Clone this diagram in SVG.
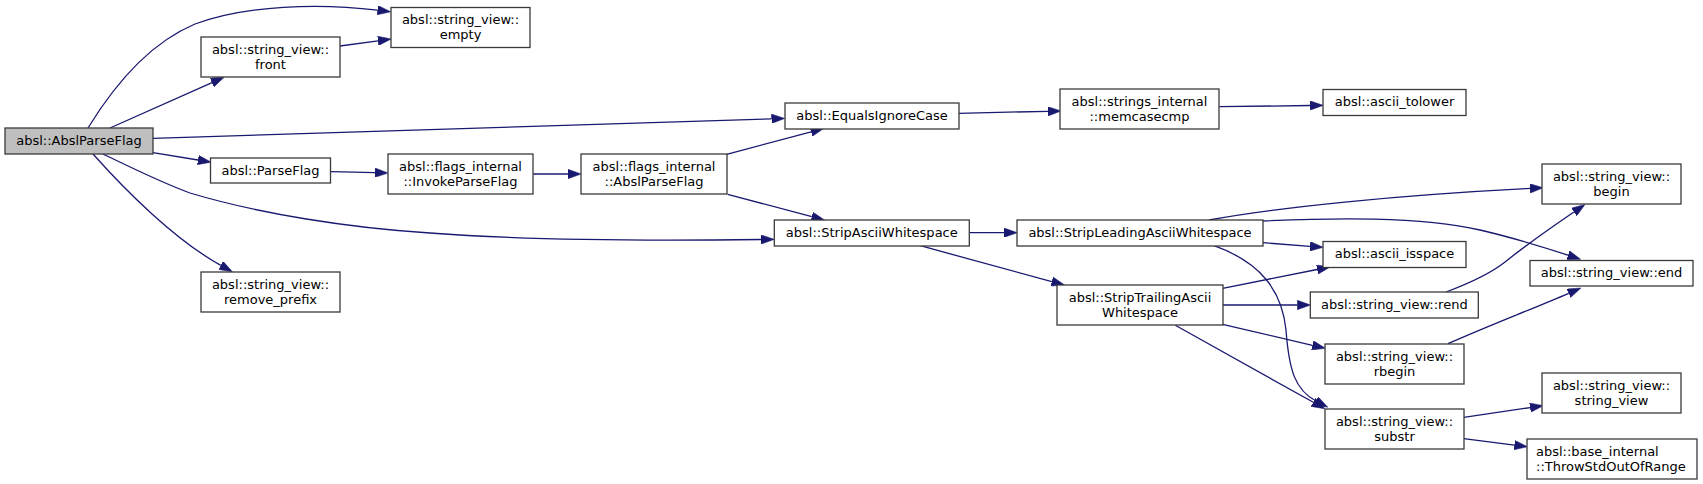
<svg xmlns="http://www.w3.org/2000/svg" width="1703" height="484" viewBox="0 0 1703 484">
<style>
.node rect{fill:#ffffff;stroke:#3a3a3a;stroke-width:1.3}
.node.root rect{fill:#bfbfbf}
.node text{font-family:"DejaVu Sans","Liberation Sans",sans-serif;font-size:13px;fill:#000;text-anchor:middle}
.node text.left{text-anchor:start}
.edges path{fill:none;stroke:#191970;stroke-width:1.3;marker-end:url(#arr)}
</style>
<defs>
<marker id="arr" markerUnits="userSpaceOnUse" viewBox="0 0 13.3 9.4" refX="0" refY="4.7" markerWidth="13.3" markerHeight="9.4" orient="auto">
<path d="M0,0 L13.3,4.7 L0,9.4 z" fill="#191970" stroke="#191970" stroke-width="0.5"/>
</marker>
</defs>
<rect width="1703" height="484" fill="#ffffff"/>
<g class="edges">
<path d="M88,128 C110,92 145,45 195,24 C245,5 320,3 377.5,10.2"/>
<path d="M110,128 L212,82.6"/>
<path d="M340,46 L378,40.8"/>
<path d="M153,138.3 L771.5,118.8"/>
<path d="M153,152.7 L198,160"/>
<path d="M331,171.7 L375,172.7"/>
<path d="M533.3,174 L568,174"/>
<path d="M726.7,154.3 L811.1,131.8"/>
<path d="M727.7,194.3 L811.8,216.7"/>
<path d="M103,154 C130,167 160,182 190,193 C260,214 350,228 430,233 C520,240 640,241 761,239.5"/>
<path d="M93,154 C125,190 175,240 220.8,265.4"/>
<path d="M958.7,113.3 L1048,111.3"/>
<path d="M1219.3,106.7 L1310,105.5"/>
<path d="M969.3,232.7 L1004,232.7"/>
<path d="M920.3,245.7 L1051.8,281.6"/>
<path d="M1209,220 C1280,207 1400,195 1530,188.4"/>
<path d="M1262,221 C1330,218 1420,216 1480,230 C1510,237 1540,246 1568,255.2"/>
<path d="M1262.7,242.7 L1310,246.3"/>
<path d="M1214,245.7 C1260,262 1282,290 1286,330 C1289,370 1295,390 1316,401"/>
<path d="M1222.7,288.3 L1317.2,269.5"/>
<path d="M1222.7,305 L1297.3,305"/>
<path d="M1222.7,324.3 L1312.4,345.3"/>
<path d="M1175.3,325.3 L1313.3,402.3"/>
<path d="M1446,292 C1470,283 1490,274 1505,262 C1530,242 1555,225 1574,212"/>
<path d="M1448,343.7 C1490,325 1530,310 1568.7,293.3"/>
<path d="M1463.7,417.3 L1530.1,407.6"/>
<path d="M1463.7,438.7 L1514.4,445.1"/>
</g>
<g id="node1" class="node root"><rect x="5" y="128" width="148" height="26"/><text x="79" y="144.8">absl::AbslParseFlag</text></g>
<g id="node2" class="node"><rect x="391" y="7.5" width="139" height="40"/><text x="460.5" y="24">absl::string_view::</text><text x="460.5" y="39">empty</text></g>
<g id="node3" class="node"><rect x="201" y="37" width="139" height="40"/><text x="270.5" y="53.5">absl::string_view::</text><text x="270.5" y="68.5">front</text></g>
<g id="node4" class="node"><rect x="785" y="103" width="174" height="26"/><text x="872" y="119.8">absl::EqualsIgnoreCase</text></g>
<g id="node5" class="node"><rect x="1060" y="89" width="159" height="40"/><text x="1139.5" y="105.5">absl::strings_internal</text><text x="1139.5" y="120.5">::memcasecmp</text></g>
<g id="node6" class="node"><rect x="1323" y="89.5" width="143" height="26"/><text x="1394.5" y="106.3">absl::ascii_tolower</text></g>
<g id="node7" class="node"><rect x="210.5" y="158" width="120" height="25"/><text x="270.5" y="174.5">absl::ParseFlag</text></g>
<g id="node8" class="node"><rect x="388" y="154" width="145" height="40"/><text x="460.5" y="170.5">absl::flags_internal</text><text x="460.5" y="185.5">::InvokeParseFlag</text></g>
<g id="node9" class="node"><rect x="581" y="154" width="146" height="40"/><text x="654" y="170.5">absl::flags_internal</text><text x="654" y="185.5">::AbslParseFlag</text></g>
<g id="node10" class="node"><rect x="774.3" y="220" width="195" height="26"/><text x="871.8" y="236.8">absl::StripAsciiWhitespace</text></g>
<g id="node11" class="node"><rect x="1017" y="220" width="246" height="26"/><text x="1140" y="236.8">absl::StripLeadingAsciiWhitespace</text></g>
<g id="node12" class="node"><rect x="1542" y="164" width="139" height="40"/><text x="1611.5" y="180.5">absl::string_view::</text><text x="1611.5" y="195.5">begin</text></g>
<g id="node13" class="node"><rect x="1530" y="260.5" width="163" height="25.5"/><text x="1611.5" y="277.2">absl::string_view::end</text></g>
<g id="node14" class="node"><rect x="1323" y="241.5" width="143" height="26"/><text x="1394.5" y="258.3">absl::ascii_isspace</text></g>
<g id="node15" class="node"><rect x="1325" y="409" width="139" height="40"/><text x="1394.5" y="425.5">absl::string_view::</text><text x="1394.5" y="440.5">substr</text></g>
<g id="node16" class="node"><rect x="1542" y="373" width="139" height="40"/><text x="1611.5" y="389.5">absl::string_view::</text><text x="1611.5" y="404.5">string_view</text></g>
<g id="node17" class="node"><rect x="1527" y="439" width="170" height="40"/><text class="left" x="1536" y="455.5">absl::base_internal</text><text class="left" x="1536" y="470.5">::ThrowStdOutOfRange</text></g>
<g id="node18" class="node"><rect x="1057" y="285" width="166" height="40"/><text x="1140" y="301.5">absl::StripTrailingAscii</text><text x="1140" y="316.5">Whitespace</text></g>
<g id="node19" class="node"><rect x="1310.3" y="292" width="168" height="26"/><text x="1394.3" y="308.8">absl::string_view::rend</text></g>
<g id="node20" class="node"><rect x="1325" y="344" width="139" height="40"/><text x="1394.5" y="360.5">absl::string_view::</text><text x="1394.5" y="375.5">rbegin</text></g>
<g id="node21" class="node"><rect x="201" y="272" width="139" height="40"/><text x="270.5" y="288.5">absl::string_view::</text><text x="270.5" y="303.5">remove_prefix</text></g>
</svg>
